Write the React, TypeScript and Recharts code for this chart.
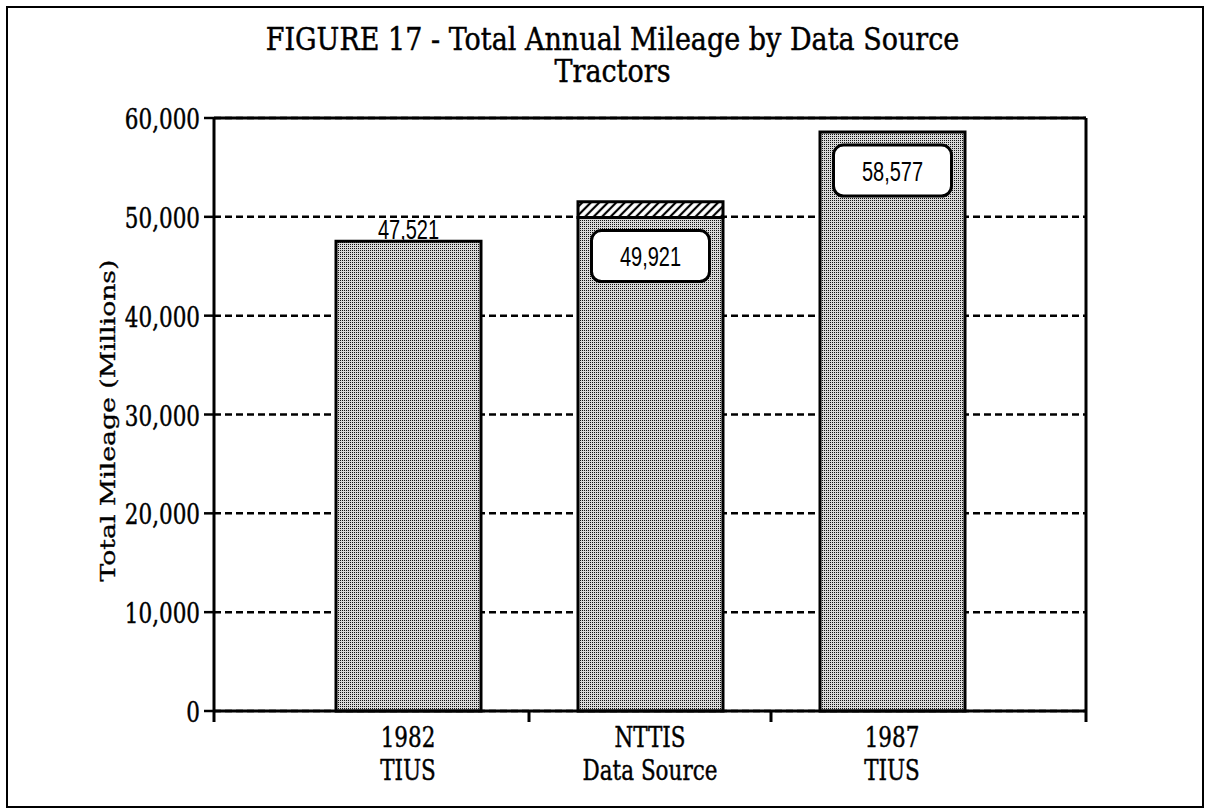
import React from 'react';
import { BarChart, Bar, XAxis, YAxis, CartesianGrid, ReferenceLine, LabelList } from 'recharts';

// data
const categories = ['1982\nTIUS', 'NTTIS\nData Source', '1987\nTIUS'];
const baseMileage = [47521, 49921, 58577];
const addedMileage = [0, 1597, 0];
const yTicks = [0, 10000, 20000, 30000, 40000, 50000, 60000];
const titleLines = ['FIGURE 17 - Total Annual Mileage by Data Source', 'Tractors'];

const data = categories.map((name, i) => ({
  name,
  base: baseMileage[i],
  added: addedMileage[i],
  total: baseMileage[i] + addedMileage[i],
}));

const W = 1205;
const H = 809;
const MARGIN = { top: 118, right: 118, bottom: 0, left: 0 };
const Y_AXIS_W = 214;
const X_AXIS_H = 98;
const X_PAD = 73;
const BAND = (W - MARGIN.left - Y_AXIS_W - MARGIN.right - 1 - 2 * X_PAD) / categories.length;

const SERIF = '"DejaVu Serif", serif';
const SANS = '"Liberation Sans", Arial, sans-serif';
const STRETCH = 1.27; // the scan is taller than it is wide
const TITLE_STRETCH = 1.15;
const SANS_STRETCH = 1.38;

const fmt = (v: number) => v.toLocaleString('en-US');

const serifText = { fontFamily: SERIF, fill: '#000', stroke: '#000', strokeWidth: 0.35 };

const XTick = (props: any) => {
  const { x, payload, index } = props;
  const axisY = H - MARGIN.bottom - X_AXIS_H;
  const lines = String(payload.value).split('\n');
  const marks = [x + BAND / 2 + (index === categories.length - 1 ? X_PAD : 0)];
  if (index === 0) marks.push(x - BAND / 2 - X_PAD);
  return (
    <g>
      {marks.map((mx, i) => (
        <line key={i} x1={mx} x2={mx} y1={axisY} y2={axisY + 11} stroke="#000" strokeWidth={3} />
      ))}
      {lines.map((t, i) => (
        <text
          key={t}
          transform={`translate(${x},${axisY + 36 + i * 33}) scale(1,${STRETCH})`}
          textAnchor="middle"
          fontSize={21.5}
          {...serifText}
        >
          {t}
        </text>
      ))}
    </g>
  );
};

const YTick = (props: any) => {
  const { x, y, payload } = props;
  return (
    <text
      transform={`translate(${x},${y + 11}) scale(1,${STRETCH})`}
      textAnchor="end"
      fontSize={21.5}
      {...serifText}
    >
      {fmt(payload.value)}
    </text>
  );
};

const YLabel = (props: any) => {
  const vb = props.viewBox;
  const cx = vb.x + 108;
  const cy = vb.y + vb.height / 2 + 6;
  return (
    <text
      transform={`translate(${cx},${cy}) scale(1,${STRETCH}) rotate(-90)`}
      textAnchor="middle"
      dominantBaseline="central"
      fontSize={21}
      {...serifText}
    >
      Total Mileage (Millions)
    </text>
  );
};

const BaseLabel = (props: any) => {
  const { x, y, width, value, index } = props;
  const cx = x + width / 2;
  if (index === 0) {
    return (
      <text
        transform={`translate(${cx},${y - 2}) scale(1,${SANS_STRETCH})`}
        textAnchor="middle"
        fontFamily={SANS}
        fontSize={20}
        fill="#000"
      >
        {fmt(value)}
      </text>
    );
  }
  const bw = 118;
  const bh = 51;
  const top = y + 13;
  return (
    <g>
      <rect x={cx - bw / 2} y={top} width={bw} height={bh} rx={10} fill="#fff" stroke="#000" strokeWidth={3} />
      <text
        transform={`translate(${cx},${top + bh / 2 + 10}) scale(1,${SANS_STRETCH})`}
        textAnchor="middle"
        fontFamily={SANS}
        fontSize={20}
        fill="#000"
      >
        {fmt(value)}
      </text>
    </g>
  );
};

const TotalLabel = (props: any) => {
  const { x, y, width, value, index } = props;
  if (!addedMileage[index]) return null;
  return (
    <text
      transform={`translate(${x + width / 2 + 3},${y - 10}) scale(1,${SANS_STRETCH})`}
      textAnchor="middle"
      fontFamily={SANS}
      fontSize={20}
      fill="#000"
    >
      {fmt(value)}
    </text>
  );
};

export default function App() {
  return (
    <div style={{ position: 'absolute', left: 0, top: 0, width: W, height: H, background: '#fff' }}>
      <div
        style={{
          position: 'absolute',
          left: 6,
          top: 6,
          width: 1198,
          height: 802,
          border: '2.5px solid #000',
          boxSizing: 'border-box',
        }}
      />
      {titleLines.map((t, i) => (
        <div
          key={t}
          style={{
            position: 'absolute',
            left: 10,
            top: 26 + i * 32,
            width: W,
            textAlign: 'center',
            fontFamily: SERIF,
            fontSize: 27,
            lineHeight: '24px',
            color: '#000',
            WebkitTextStroke: '0.4px #000',
            transform: `scaleY(${TITLE_STRETCH})`,
            transformOrigin: 'top',
          }}
        >
          {t}
        </div>
      ))}
      <div style={{ position: 'absolute', left: 0, top: 0 }}>
        <BarChart width={W} height={H} data={data} margin={MARGIN}>
          <defs>
            <pattern id="dots" width={2} height={2} patternUnits="userSpaceOnUse">
              <rect width={2} height={2} fill="#d8d8d8" />
              <rect width={1} height={1} fill="#111" />
            </pattern>
            <pattern id="hatch" width={6} height={6} patternUnits="userSpaceOnUse" patternTransform="rotate(45)">
              <rect width={6} height={6} fill="#fff" />
              <line x1={3} y1={0} x2={3} y2={6} stroke="#000" strokeWidth={2.2} />
            </pattern>
          </defs>
          <CartesianGrid vertical={false} stroke="#000" strokeWidth={2.5} strokeDasharray="7 4" />
          <XAxis
            dataKey="name"
            height={X_AXIS_H}
            padding={{ left: X_PAD, right: X_PAD }}
            axisLine={{ stroke: '#000', strokeWidth: 3 }}
            tickLine={false}
            tick={<XTick />}
            interval={0}
          />
          <YAxis
            width={Y_AXIS_W}
            domain={[0, 60000]}
            ticks={yTicks}
            interval={0}
            axisLine={{ stroke: '#000', strokeWidth: 3 }}
            tickLine={{ stroke: '#000', strokeWidth: 2.5 }}
            tickSize={10}
            tickMargin={4}
            tick={<YTick />}
            label={{ content: <YLabel /> }}
          />
          <YAxis
            yAxisId="right"
            orientation="right"
            width={1}
            domain={[0, 60000]}
            tick={false}
            tickLine={false}
            axisLine={{ stroke: '#000', strokeWidth: 3 }}
          />
          <ReferenceLine y={60000} stroke="#000" strokeWidth={3} />
          <Bar dataKey="base" stackId="a" barSize={145} fill="url(#dots)" stroke="#000" strokeWidth={3} isAnimationActive={false}>
            <LabelList dataKey="base" content={<BaseLabel />} />
          </Bar>
          <Bar dataKey="added" stackId="a" barSize={145} fill="url(#hatch)" stroke="#000" strokeWidth={3} isAnimationActive={false}>
            <LabelList dataKey="total" content={<TotalLabel />} />
          </Bar>
        </BarChart>
      </div>
    </div>
  );
}
